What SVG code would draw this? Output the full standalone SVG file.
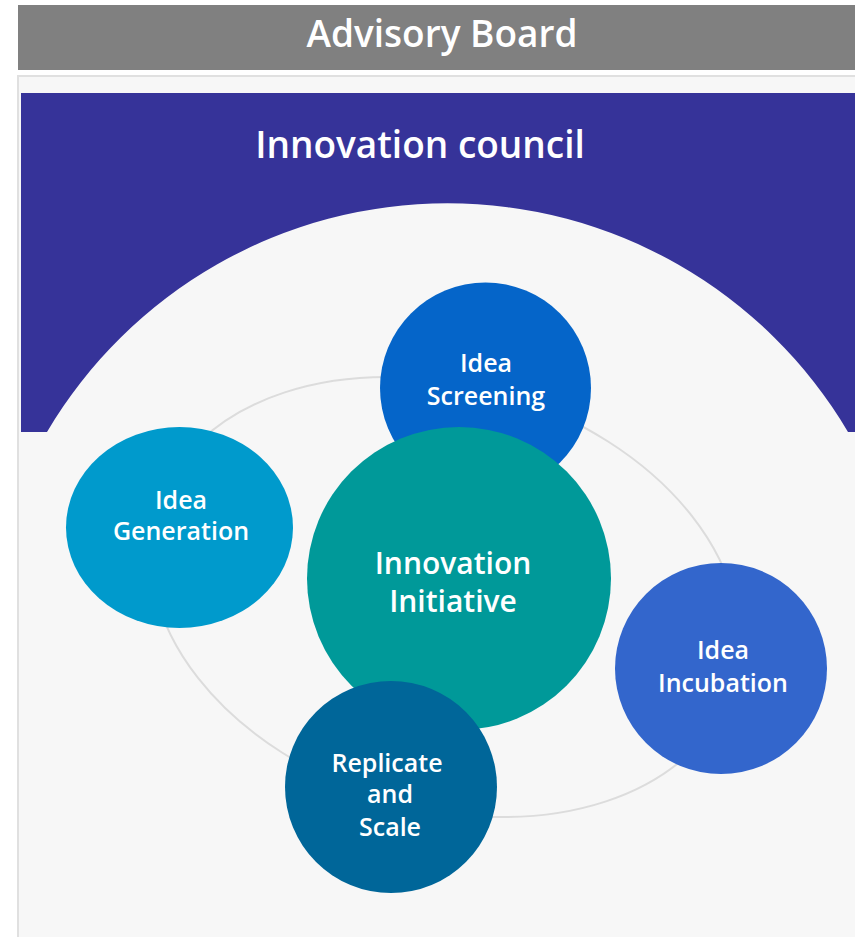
<svg xmlns="http://www.w3.org/2000/svg" width="855" height="937" viewBox="0 0 855 937">
  <style>
    .hdr { font-family: "Open Sans", "Noto Sans", "DejaVu Sans", sans-serif; font-size: 37px; font-weight: 600; fill: #ffffff; text-anchor: middle; }
    .lbl { font-family: "Open Sans", "Noto Sans", "DejaVu Sans", sans-serif; font-size: 25px; font-weight: 600; fill: #ffffff; text-anchor: middle; }
    .core { font-family: "Open Sans", "Noto Sans", "DejaVu Sans", sans-serif; font-size: 30px; font-weight: 600; fill: #ffffff; text-anchor: middle; }
  </style>
  <rect x="0" y="0" width="855" height="937" fill="#ffffff"/>
  <g id="advisory-board">
    <rect x="18" y="5" width="837" height="65" fill="#808080"/>
    <text class="hdr" x="442" y="47">Advisory Board</text>
  </g>
  <g id="panel">
    <rect x="18" y="76" width="840" height="865" fill="#f7f7f7" stroke="#e0e0e0" stroke-width="2"/>
  </g>
  <g id="innovation-council">
    <path d="M21,93 H855 V432 H848 A465,465 0 0 0 47,432 H21 Z" fill="#363399"/>
    <text class="hdr" x="420" y="158">Innovation council</text>
  </g>
  <g id="connectors">
    <ellipse cx="445" cy="597" rx="301" ry="211" transform="rotate(16.9 445 597)" fill="none" stroke="#dcdcdc" stroke-width="2"/>
  </g>
  <g id="idea-screening">
    <circle cx="485.5" cy="388" r="105.5" fill="#0565C9"/>
    <text class="lbl" x="486" y="372">Idea</text>
    <text class="lbl" x="486" y="405">Screening</text>
  </g>
  <g id="idea-generation">
    <ellipse cx="179.5" cy="527.5" rx="113.5" ry="100.5" fill="#009ACC"/>
    <text class="lbl" x="181" y="509">Idea</text>
    <text class="lbl" x="181" y="540">Generation</text>
  </g>
  <g id="innovation-initiative">
    <ellipse cx="459" cy="578.5" rx="152" ry="151.5" fill="#009999"/>
    <text class="core" x="453" y="574">Innovation</text>
    <text class="core" x="453" y="612">Initiative</text>
  </g>
  <g id="idea-incubation">
    <ellipse cx="721" cy="668.5" rx="106" ry="105.5" fill="#3366CC"/>
    <text class="lbl" x="723" y="659">Idea</text>
    <text class="lbl" x="723" y="692">Incubation</text>
  </g>
  <g id="replicate-and-scale">
    <circle cx="391" cy="787" r="106" fill="#006699"/>
    <text class="lbl" x="387" y="772">Replicate</text>
    <text class="lbl" x="390" y="803">and</text>
    <text class="lbl" x="390" y="836">Scale</text>
  </g>
</svg>
